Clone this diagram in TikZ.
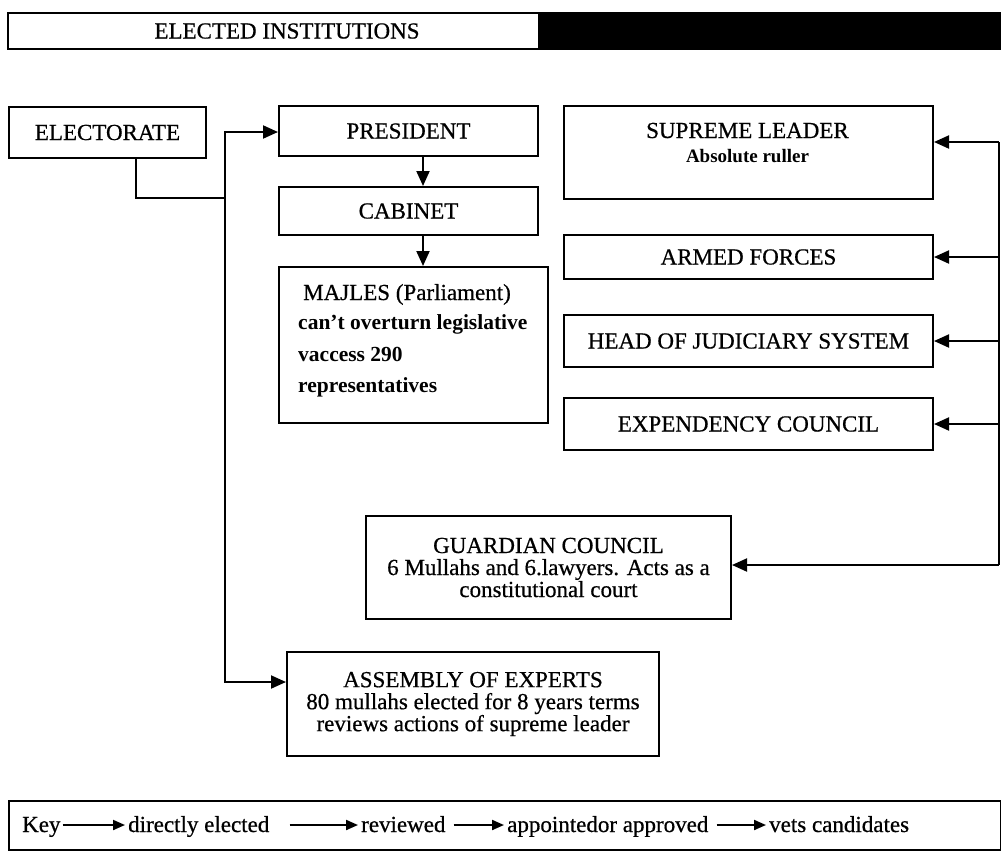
\documentclass[tikz,border=0pt]{standalone}
\usepackage{fontspec}
\setmainfont{Liberation Serif}[UprightFeatures={FakeBold=0.6}]
\usetikzlibrary{arrows.meta}
\begin{document}
\begin{tikzpicture}[x=1pt,y=-1pt,
  every node/.style={font=\fontsize{23}{22}\selectfont, inner sep=0pt},
  box/.style={draw, line width=2pt, anchor=north west, align=center},
  arr/.style={line width=2pt, -{Triangle[length=15pt,width=13pt]}},
  ln/.style={line width=2pt},
  karr/.style={line width=2pt, -{Triangle[length=12pt,width=10pt]}},
  boldtxt/.style={font=\fontsize{21.5}{21.5}\selectfont\bfseries}
]
\useasboundingbox (0,0) rectangle (1001,852);
\fill[white] (0,0) rectangle (1001,852);
% header
\node[box, minimum width=994pt, minimum height=36pt] (hdr) at (7,12) {};
\node[fill=black, anchor=north west, minimum width=463pt, minimum height=36pt] (bar) at (538,12) {};
\node (hdrtext) at (287,31) {ELECTED INSTITUTIONS};
% left column
\node[box, minimum width=197pt, minimum height=51pt] (elect) at (8,106) {ELECTORATE};
\node[box, minimum width=259pt, minimum height=50pt] (pres) at (278,105) {PRESIDENT};
\node[box, minimum width=259pt, minimum height=48pt] (cab) at (278,186) {CABINET};
\node[box, minimum width=269pt, minimum height=156pt] (majles) at (278,266) {};
\node[anchor=base west] (m1) at (303,300) {MAJLES (Parliament)};
\node[anchor=base west, boldtxt] (m2) at (298,329) {can't overturn legislative};
\node[anchor=base west, boldtxt] (m3) at (298,361) {vaccess 290};
\node[anchor=base west, boldtxt] (m4) at (298,392) {representatives};
% right column
\node[box, minimum width=369pt, minimum height=93pt] (supreme) at (563,105) {};
\node[anchor=base] (s1) at (747.5,138) {SUPREME LEADER};
\node[anchor=base, font=\fontsize{19}{19}\selectfont\bfseries] (s2) at (747.5,162) {Absolute ruller};
\node[box, minimum width=369pt, minimum height=44pt] (armed) at (563,234) {ARMED FORCES};
\node[box, minimum width=369pt, minimum height=52pt] (judic) at (563,314) {HEAD OF JUDICIARY SYSTEM};
\node[box, minimum width=369pt, minimum height=52pt] (exped) at (563,397) {EXPENDENCY COUNCIL};
% lower boxes
\node[box, minimum width=365pt, minimum height=103pt] (guard) at (365,515) {GUARDIAN COUNCIL\\6 Mullahs and 6.lawyers. Acts as a\\constitutional court};
\node[box, minimum width=372pt, minimum height=104pt] (assem) at (286,651) {ASSEMBLY OF EXPERTS\\80 mullahs elected for 8 years terms\\reviews actions of supreme leader};
% connectors left
\coordinate (tTop) at (225,132);
\coordinate (tBot) at (225,682);
\coordinate (tJoin) at (225,198);
\draw[ln] ([xshift=28.5pt]elect.south) |- (tJoin);
\draw[arr] (tBot) -- (tTop) -- (pres.west |- tTop);
\draw[arr] (tTop) -- (tBot) -- (assem.west |- tBot);
\draw[arr] ([xshift=14.5pt]pres.south) -- ([xshift=14.5pt]cab.north);
\draw[arr] ([xshift=14.5pt]cab.south) -- ([xshift=14.5pt]cab.south |- majles.north);
% connectors right
\coordinate (rTop) at (999,142);
\coordinate (rBot) at (999,565);
\draw[ln] (rTop) -- (rBot);
\draw[arr] (rTop) -- (supreme.east |- rTop);
\draw[arr] (rTop |- armed.east) -- (armed.east);
\draw[arr] (rTop |- judic.east) -- (judic.east);
\draw[arr] (rTop |- exped.east) -- (exped.east);
\draw[arr] (rBot) -- (guard.east |- rBot);
% key
\node[draw, line width=2pt, anchor=north west, minimum width=992pt, minimum height=49pt] (keybox) at (8,800) {};
\node[anchor=base west] (k0) at (22,832) {Key};
\node[anchor=base west] (k1) at (128,832) {directly elected};
\node[anchor=base west] (k2) at (361,832) {reviewed};
\node[anchor=base west] (k3) at (507,832) {appointedor approved};
\node[anchor=base west] (k4) at (769,832) {vets candidates};
\draw[karr] ([xshift=2pt,yshift=7pt]k0.base east) -- ([xshift=-3pt,yshift=7pt]k1.base west);
\draw[karr] ([xshift=20pt,yshift=7pt]k1.base east) -- ([xshift=-3pt,yshift=7pt]k2.base west);
\draw[karr] ([xshift=8pt,yshift=7pt]k2.base east) -- ([xshift=-3pt,yshift=7pt]k3.base west);
\draw[karr] ([xshift=8pt,yshift=7pt]k3.base east) -- ([xshift=-3pt,yshift=7pt]k4.base west);
\end{tikzpicture}
\end{document}
